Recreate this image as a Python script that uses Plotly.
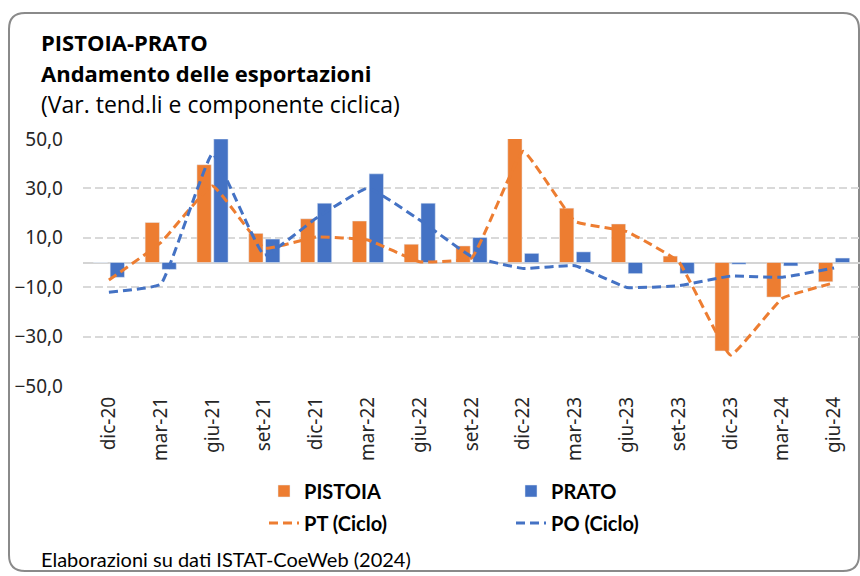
import plotly.graph_objects as go

categories = ["dic-20", "mar-21", "giu-21", "set-21", "dic-21", "mar-22", "giu-22", "set-22",
              "dic-22", "mar-23", "giu-23", "set-23", "dic-23", "mar-24", "giu-24"]
pistoia = [0.0, 16.2, 39.6, 11.8, 17.7, 16.8, 7.4, 6.7, 50.4, 22.0, 15.6, 2.6, -35.8, -14.0, -7.8]
prato = [-6.0, -2.8, 50.0, 9.5, 24.0, 35.9, 24.0, 10.1, 3.7, 4.3, -4.5, -4.5, -0.7, -1.4, 1.8]
pt_ciclo = [-7.1, 8.0, 31.0, 5.8, 10.3, 9.1, 0.3, 1.8, 45.0, 16.6, 12.5, 0.3, -37.5, -14.5, -8.2]
po_ciclo = [-12.0, -8.8, 44.0, 3.0, 17.9, 30.1, 17.2, 2.4, -2.4, -1.3, -10.1, -9.4, -5.5, -6.0, -2.2]
y_ticks = [-50, -30, -10, 10, 30, 50]

ORANGE = "#ED7D31"
BLUE = "#4472C4"

W, H = 860, 576
ML, MR, MT, MB = 83, 0, 139, 190
PW = W - ML - MR
PH = H - MT - MB


def px2x(px):
    return (px - ML) / PW


def py2y(py):
    return (H - MB - py) / PH


fig = go.Figure()
fig.add_trace(go.Bar(x=categories, y=pistoia, name="PISTOIA", marker_color=ORANGE, legend="legend"))
fig.add_trace(go.Bar(x=categories, y=prato, name="PRATO", marker_color=BLUE, legend="legend"))
fig.add_trace(go.Scatter(x=categories, y=pt_ciclo, name="PT (Ciclo)", mode="lines",
                         line=dict(color=ORANGE, width=3, dash="9px,5px", shape="spline", smoothing=0.3),
                         legend="legend2"))
fig.add_trace(go.Scatter(x=categories, y=po_ciclo, name="PO (Ciclo)", mode="lines",
                         line=dict(color=BLUE, width=3, dash="9px,5px", shape="spline", smoothing=0.3),
                         legend="legend2"))

# rounded border
x0, x1, y0, y1, r = px2x(9), px2x(859), py2y(13), py2y(571), 16
rx, ry = r / PW, r / PH
path = (f"M {x0+rx},{y0} L {x1-rx},{y0} Q {x1},{y0} {x1},{y0-ry} "
        f"L {x1},{y1+ry} Q {x1},{y1} {x1-rx},{y1} "
        f"L {x0+rx},{y1} Q {x0},{y1} {x0},{y1+ry} "
        f"L {x0},{y0-ry} Q {x0},{y0} {x0+rx},{y0} Z")
fig.add_shape(type="path", path=path, xref="paper", yref="paper",
              line=dict(color="#8a8a8a", width=2), layer="below")

anns = [
    ("<b>PISTOIA-PRATO</b>", 42, 22, "Open Sans, sans-serif"),
    ("<b>Andamento delle esportazioni</b>", 73, 22, "Open Sans, sans-serif"),
    ("(Var. tend.li e componente ciclica)", 104, 23, "Open Sans, sans-serif"),
    ("Elaborazioni su dati ISTAT-CoeWeb (2024)", 559, 20, "Lato, sans-serif"),
]
for text, ypx, size, fam in anns:
    fig.add_annotation(text=text, xref="paper", yref="paper", x=px2x(39), y=py2y(ypx),
                       xanchor="left", yanchor="middle", showarrow=False,
                       font=dict(family=fam, size=size, color="#000000"))

legend_font = dict(family="Lato, sans-serif", size=20, color="#000000", weight="bold")
fig.update_layout(
    width=W, height=H,
    margin=dict(l=ML, r=MR, t=MT, b=MB, pad=0),
    paper_bgcolor="white", plot_bgcolor="white",
    barmode="group", bargap=0.35, bargroupgap=0.15,
    separators=",.",
    showlegend=True,
    legend=dict(orientation="h", x=px2x(264), y=py2y(491), xanchor="left", yanchor="middle",
                entrywidth=202, entrywidthmode="pixels", font=legend_font,
                bgcolor="rgba(0,0,0,0)"),
    legend2=dict(orientation="h", x=px2x(264), y=py2y(523), xanchor="left", yanchor="middle",
                 entrywidth=202, entrywidthmode="pixels", font=legend_font,
                 bgcolor="rgba(0,0,0,0)"),
)
fig.update_xaxes(type="category", tickangle=-90, showgrid=False, showline=False, ticks="",
                 ticklabelstandoff=6,
                 tickfont=dict(family="Noto Sans, sans-serif", size=19, color="#262626"))
fig.update_yaxes(range=[-50, 50], tickvals=y_ticks, tickformat=".1f",
                 showgrid=True, gridcolor="#d9d9d9", gridwidth=1.7, griddash="8px,4px",
                 zeroline=True, zerolinecolor="#d4d4d4", zerolinewidth=2,
                 showline=False, ticks="", ticklabelstandoff=19,
                 tickfont=dict(family="Noto Sans, sans-serif", size=19, color="#262626"))

fig.write_html("out.html", config={"displayModeBar": False},
               post_script="document.body.style.margin='0px';")
